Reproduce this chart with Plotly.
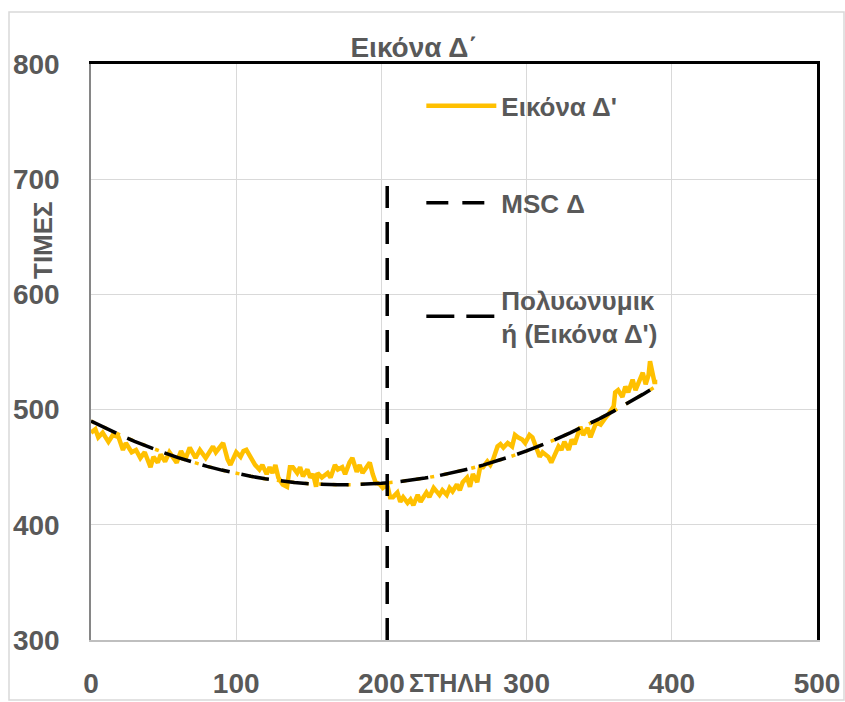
import plotly.graph_objects as go

# ---- data ----
col_x = [0, 3, 5, 8, 12, 15, 19, 22, 24, 28, 31, 34, 37, 41, 43, 46, 48, 51, 54, 59,
         62, 65, 68, 72, 75, 79, 84, 86, 91, 94, 96, 100, 103, 105, 107, 110, 113, 116, 118, 121,
         123, 125, 127, 129, 132, 135, 137, 139, 142, 144, 146, 149, 151, 153, 155, 156, 159, 163, 165, 168,
         170, 173, 175, 178, 180, 183, 185, 187, 190, 192, 194, 196, 199, 201, 204, 206, 208, 211, 213, 215,
         218, 220, 222, 225, 227, 229, 231, 233, 236, 238, 240, 242, 245, 247, 249, 252, 254, 256, 259, 261,
         263, 266, 268, 270, 273, 275, 277, 280, 282, 284, 287, 290, 292, 294, 297, 299, 301, 302, 304, 307,
         309, 311, 315, 317, 320, 322, 324, 326, 329, 331, 333, 337, 339, 342, 344, 346, 348, 351, 353, 355,
         357, 360, 361, 363, 366, 368, 370, 373, 375, 377, 379, 380, 382, 384, 385, 386, 388, 390]
img_vals = [480, 483, 476, 480, 472, 478, 476, 465, 471, 463, 465, 458, 463, 450, 459, 454, 461, 455, 463, 454,
            464, 457, 467, 458, 465, 458, 468, 463, 471, 457, 452, 463, 459, 464, 465, 458, 452, 448, 452, 444,
            450, 445, 452, 441, 435, 433, 450, 450, 445, 450, 442, 448, 441, 444, 433, 445, 441, 445, 441, 452,
            448, 450, 444, 454, 458, 446, 452, 445, 450, 454, 444, 437, 435, 432, 435, 424, 424, 428, 420, 424,
            419, 422, 417, 426, 420, 424, 428, 424, 432, 429, 426, 430, 426, 432, 429, 435, 430, 437, 441, 433,
            444, 437, 450, 450, 455, 452, 457, 468, 470, 467, 471, 468, 478, 476, 474, 471, 476, 478, 476, 465,
            459, 463, 459, 454, 464, 468, 465, 472, 465, 474, 470, 485, 478, 484, 476, 484, 489, 487, 491, 494,
            497, 503, 515, 517, 511, 520, 515, 526, 517, 524, 529, 532, 522, 530, 542, 535, 524, 524]

trend_x = [0, 10, 20, 30, 40, 50, 60, 70, 80, 90, 100, 110, 120, 130, 140, 150, 160, 170, 180, 190,
           200, 210, 220, 230, 240, 250, 260, 270, 280, 290, 300, 310, 320, 330, 340, 350, 360, 370, 380, 390]
trend_vals = [490.0, 483.8, 478.0, 472.5, 467.4, 462.7, 458.3, 454.4, 450.7, 447.5,
              444.6, 442.1, 439.9, 438.2, 436.7, 435.7, 435.0, 434.7, 434.8, 435.2,
              436.0, 437.1, 438.7, 440.6, 442.8, 445.5, 448.5, 451.8, 455.6, 459.7,
              464.1, 469.0, 474.2, 479.8, 485.7, 492.0, 498.7, 505.7, 513.2, 520.9]

msc_x = [204, 204]
msc_y = [694, 300]

x_ticks = [0, 100, 200, 300, 400, 500]
y_ticks = [300, 400, 500, 600, 700, 800]

title_text = "Εικόνα Δ΄"
name_img = "Εικόνα Δ'"
name_msc = "MSC Δ"
name_poly = "Πολυωνυμικ<br>ή (Εικόνα Δ')"
x_title = "ΣΤΗΛΗ"
y_title = "ΤΙΜΕΣ"

YELLOW = "#FFC000"
GRAY_TXT = "#595959"
FONT = "Liberation Sans, Arial, sans-serif"

fig = go.Figure()

fig.add_trace(go.Scatter(x=col_x, y=img_vals, mode="lines", name=name_img,
                         line=dict(color=YELLOW, width=4.5), legendgroup="a"))
# yellow dots visible in the trendline gaps
fig.add_trace(go.Scatter(x=trend_x, y=trend_vals, mode="lines", showlegend=False,
                         line=dict(color=YELLOW, width=3.5, dash="4px,10px"), hoverinfo="skip"))
fig.add_trace(go.Scatter(x=msc_x, y=msc_y, mode="lines", name=name_msc,
                         line=dict(color="black", width=3.5, dash="22px,14px"),
                         xaxis="x2", yaxis="y2", legendgroup="b"))
fig.add_trace(go.Scatter(x=trend_x, y=trend_vals, mode="lines", name=name_poly,
                         line=dict(color="black", width=3.5, dash="28px,12px"), legendgroup="c"))

tickfont = dict(family=FONT, size=28, color=GRAY_TXT, weight="bold")

fig.update_layout(
    width=845, height=702,
    margin=dict(l=91, r=28, t=64, b=62, autoexpand=False),
    paper_bgcolor="white", plot_bgcolor="white",
    font=dict(family=FONT, color=GRAY_TXT),
    title=dict(text=title_text, x=0.49, xref="container", xanchor="center",
               y=1 - 47 / 702, yref="container", yanchor="middle",
               font=dict(family=FONT, size=28, color=GRAY_TXT, weight="bold")),
    xaxis=dict(range=[0, 500], tickvals=x_ticks, showgrid=True, gridcolor="#d9d9d9", gridwidth=1.3,
               showline=True, linecolor="#bfbfbf", linewidth=1.5, zeroline=False, automargin=False,
               ticks="", tickfont=tickfont, ticklabelstandoff=18),
    yaxis=dict(range=[300, 800], tickvals=y_ticks, showgrid=True, gridcolor="#d9d9d9", gridwidth=1.3,
               showline=True, linecolor="#868686", linewidth=1.5, zeroline=False, automargin=False,
               ticks="", tickfont=tickfont, ticklabelstandoff=24),
    xaxis2=dict(range=[0, 500], overlaying="x", side="top", showline=True, linecolor="black",
                linewidth=2.5, showgrid=False, zeroline=False, showticklabels=False, ticks="",
                automargin=False),
    yaxis2=dict(range=[300, 800], overlaying="y", side="right", showline=True, linecolor="black",
                linewidth=2.5, showgrid=False, zeroline=False, showticklabels=False, ticks="",
                automargin=False),
    legend=dict(x=0.455, y=0.968, xanchor="left", yanchor="top", bgcolor="rgba(0,0,0,0)",
                font=dict(family=FONT, size=26, color=GRAY_TXT, weight="bold"),
                itemwidth=70, tracegroupgap=60, traceorder="grouped"),
    showlegend=True,
)

fig.add_annotation(text=y_title, xref="paper", yref="paper", x=(43 - 91) / 726, y=(640 - 240) / 576,
                   textangle=-90, showarrow=False, xanchor="center", yanchor="middle",
                   font=dict(family=FONT, size=26, color=GRAY_TXT, weight="bold"))
fig.add_annotation(text=x_title, xref="paper", yref="paper", x=(450 - 91) / 726, y=(640 - 683) / 576,
                   showarrow=False, xanchor="center", yanchor="middle",
                   font=dict(family=FONT, size=25, color=GRAY_TXT, weight="bold"))

# outer chart border
fig.add_shape(type="rect", xref="paper", yref="paper",
              x0=(9 - 91) / 726, x1=(844 - 91) / 726, y0=(640 - 700) / 576, y1=(640 - 12) / 576,
              line=dict(color="#d9d9d9", width=1.5), fillcolor="rgba(0,0,0,0)", layer="below")

fig.write_html("out.html")
